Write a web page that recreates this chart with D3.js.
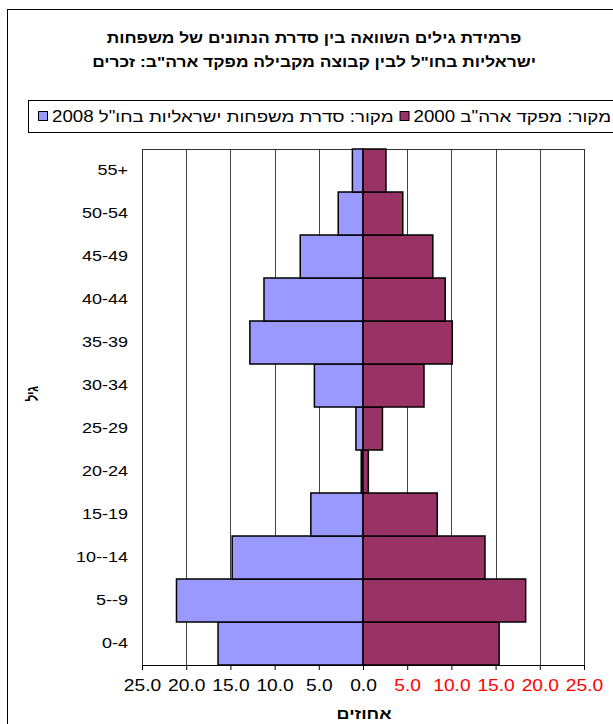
<!DOCTYPE html>
<html><head><meta charset="utf-8">
<script src="https://cdn.jsdelivr.net/npm/d3@7/dist/d3.min.js"></script>
<style>body{margin:0;background:#fff}svg{display:block;font-family:"Liberation Sans",Arial,sans-serif}</style>
</head><body>
<script>
const ageGroups = ["0-4","5--9","10--14","15-19","20-24","25-29","30-34","35-39","40-44","45-49","50-54","55+"];
const israeliAbroad2008 = [16.4,21.1,14.8,5.9,0.2,0.8,5.5,12.8,11.2,7.1,2.8,1.2];
const usCensus2000 = [15.4,18.4,13.8,8.4,0.6,2.2,6.9,10.1,9.3,7.9,4.5,2.6];
const tickValues = [-25,-20,-15,-10,-5,0,5,10,15,20,25];
const titleLines = ["פרמידת גילים השוואה בין סדרת הנתונים של משפחות","ישראליות בחו\"ל לבין קבוצה מקבילה מפקד ארה\"ב: זכרים"];
const legendLabels = ["מקור: מפקד ארה\"ב 2000","מקור: סדרת משפחות ישראליות בחו\"ל 2008"];
const colors = {blue:"#9999FF", red:"#993366"};

const W=613,H=724, SX=1.2;
const svg=d3.select("body").append("svg").attr("width",W).attr("height",H);
svg.append("rect").attr("x",7.5).attr("y",9.5).attr("width",640).attr("height",740).attr("fill","#fff").attr("stroke","#000");

const pl=142, pr=584, pt=149, pb=665;
const x=d3.scaleLinear().domain([-25,25]).range([pl,pr]);
const y=d3.scaleBand().domain(ageGroups.slice().reverse()).range([pt,pb]).padding(0);

// title
svg.append("g").selectAll("text").data(titleLines).join("text")
  .attr("transform",(d,i)=>`translate(314,${43+i*24}) scale(${SX},1)`).attr("text-anchor","middle").attr("direction","rtl")
  .attr("font-size",14.5).attr("font-weight","bold").text(d=>d);

// legend
svg.append("rect").attr("x",28.5).attr("y",100.5).attr("width",620).attr("height",32).attr("fill","#fff").attr("stroke","#000");
const lg=svg.append("g");
let cx=38;
const items=[{label:legendLabels[1],color:colors.blue},{label:legendLabels[0],color:colors.red}];
items.forEach(it=>{
  lg.append("rect").attr("x",cx+0.5).attr("y",111.5).attr("width",9).attr("height",9).attr("fill",it.color).attr("stroke","#000");
  cx+=14;
  const t=lg.append("text").attr("transform",`translate(${cx},121.5) scale(${SX},1)`).attr("font-size",15.6).attr("direction","rtl").attr("text-anchor","end").text(it.label);
  cx+=t.node().getComputedTextLength()*SX+6;
});

// grid
const g=svg.append("g");
g.selectAll("line.grid").data(tickValues).join("line").attr("class","grid")
  .attr("x1",d=>Math.round(x(d))+0.5).attr("x2",d=>Math.round(x(d))+0.5).attr("y1",pt).attr("y2",pb)
  .attr("stroke","#444").attr("stroke-width",1);
g.append("rect").attr("x",pl+0.5).attr("y",pt+0.5).attr("width",pr-pl).attr("height",pb-pt).attr("fill","none").attr("stroke","#333");

// bars
g.selectAll("rect.b").data(ageGroups).join("rect").attr("class","b")
  .attr("x",(d,i)=>x(-israeliAbroad2008[i])).attr("width",(d,i)=>x(0)-x(-israeliAbroad2008[i]))
  .attr("y",d=>y(d)).attr("height",y.bandwidth()).attr("fill",colors.blue).attr("stroke","#000").attr("stroke-width",1.5);
g.selectAll("rect.r").data(ageGroups).join("rect").attr("class","r")
  .attr("x",x(0)).attr("width",(d,i)=>x(usCensus2000[i])-x(0))
  .attr("y",d=>y(d)).attr("height",y.bandwidth()).attr("fill",colors.red).attr("stroke","#000").attr("stroke-width",1.5);

// x axis
const xa=svg.append("g").attr("transform",`translate(0,${pb})`)
  .call(d3.axisBottom(x).tickValues(tickValues).tickSize(5).tickFormat(d=>Math.abs(d).toFixed(1)));
xa.select(".domain").attr("stroke","#000");
xa.selectAll(".tick line").attr("stroke","#000");
xa.selectAll(".tick text").attr("font-size",16).attr("font-family","Liberation Sans, Arial").attr("dy","1.15em")
  .attr("transform",`scale(${SX},1)`).attr("fill",d=>d>0?"#FF0000":"#000");

// y axis labels
const ya=svg.append("g").attr("transform",`translate(${pl},0)`)
  .call(d3.axisLeft(y).tickSize(0).tickPadding(14/SX));
ya.select(".domain").remove();
ya.selectAll(".tick text").attr("font-size",15).attr("font-family","Liberation Sans, Arial").attr("fill","#000")
  .attr("transform",`scale(${SX},1)`);

// axis titles
svg.append("text").attr("transform",`translate(364,719) scale(${SX},1)`).attr("text-anchor","middle").attr("font-size",15).attr("font-weight","bold").attr("direction","rtl").text("אחוזים");
svg.append("text").attr("transform","translate(38,394) rotate(-90) scale(0.85,1.15)").attr("text-anchor","middle").attr("direction","rtl")
  .attr("letter-spacing","-0.5").attr("font-size",14).attr("font-weight","bold").text("גיל");
</script>
</body></html>
